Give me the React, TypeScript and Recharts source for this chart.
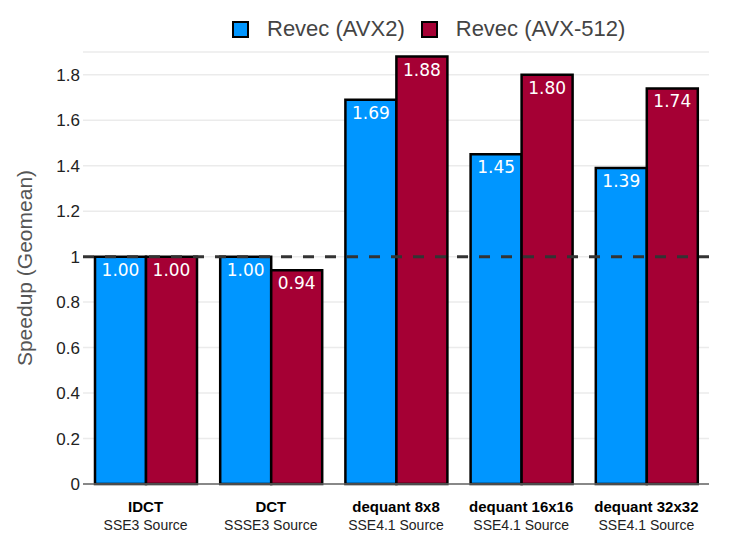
import { BarChart, Bar, XAxis, YAxis, CartesianGrid, ReferenceLine, LabelList } from 'recharts';

const kernels = ['IDCT', 'DCT', 'dequant 8x8', 'dequant 16x16', 'dequant 32x32'];
const sources = ['SSE3 Source', 'SSSE3 Source', 'SSE4.1 Source', 'SSE4.1 Source', 'SSE4.1 Source'];
const avx2 = [1.0, 1.0, 1.69, 1.45, 1.39];
const avx512 = [1.0, 0.94, 1.88, 1.8, 1.74];
const yTicks = [0, 0.2, 0.4, 0.6, 0.8, 1, 1.2, 1.4, 1.6, 1.8];

const BLUE = '#0096ff';
const RED = '#a50034';
const SANS = 'Liberation Sans, Arial, sans-serif';

const data = kernels.map((k, i) => ({ kernel: k, source: sources[i], avx2: avx2[i], avx512: avx512[i] }));

function KernelTick(props: any) {
  const { x, y, payload, index } = props;
  return (
    <g>
      <text x={x} y={y + 20} textAnchor="middle" fontSize={15} fontWeight="bold" fill="#000" fontFamily={SANS}>
        {payload.value}
      </text>
      <text x={x} y={y + 38} textAnchor="middle" fontSize={14} fill="#222" fontFamily={SANS}>
        {sources[index]}
      </text>
    </g>
  );
}

function LegendItem({ color, label }: { color: string; label: string }) {
  return (
    <div style={{ display: 'flex', alignItems: 'center', marginRight: 16 }}>
      <div style={{ width: 13, height: 13, background: color, border: '2px solid #000', marginRight: 18 }} />
      <span style={{ fontSize: 22, color: '#444' }}>{label}</span>
    </div>
  );
}

export default function App() {
  return (
    <div style={{ position: 'absolute', left: 0, top: 0, width: 730, height: 533, fontFamily: SANS, background: '#fff' }}>
      <div style={{ position: 'absolute', left: 232, top: 16, display: 'flex' }}>
        <LegendItem color={BLUE} label="Revec (AVX2)" />
        <LegendItem color={RED} label="Revec (AVX-512)" />
      </div>
      <BarChart
        width={730}
        height={533}
        data={data}
        margin={{ top: 52, right: 21, left: 0, bottom: 0 }}
        barCategoryGap={12}
        barGap={0}
      >
        <CartesianGrid vertical={false} stroke="#ebebeb" strokeWidth={1.5} />
        <XAxis
          dataKey="kernel"
          tick={<KernelTick />}
          tickLine={false}
          axisLine={{ stroke: '#666', strokeWidth: 1.5 }}
          interval={0}
          height={49}
        />
        <YAxis
          width={83}
          domain={[0, 1.9]}
          ticks={yTicks}
          tickFormatter={(v: number) => String(v)}
          tick={{ fontSize: 17, fill: '#222', fontFamily: SANS }}
          tickLine={false}
          tickSize={0}
          axisLine={false}
          tickMargin={3}
          label={{
            value: 'Speedup (Geomean)',
            angle: -90,
            position: 'insideLeft',
            dx: 20,
            style: { fontSize: 21, fill: '#555', textAnchor: 'middle', fontFamily: SANS },
          }}
        />
        <Bar dataKey="avx2" fill={BLUE} stroke="#000" strokeWidth={2.5} isAnimationActive={false}>
          <LabelList
            dataKey="avx2"
            position="insideTop"
            offset={7}
            formatter={(v: number) => v.toFixed(2)}
            style={{ fill: '#fff', fontSize: 17, fontFamily: 'DejaVu Sans, sans-serif' }}
          />
        </Bar>
        <Bar dataKey="avx512" fill={RED} stroke="#000" strokeWidth={2.5} isAnimationActive={false}>
          <LabelList
            dataKey="avx512"
            position="insideTop"
            offset={7}
            formatter={(v: number) => v.toFixed(2)}
            style={{ fill: '#fff', fontSize: 17, fontFamily: 'DejaVu Sans, sans-serif' }}
          />
        </Bar>
        <ReferenceLine y={1} stroke="#333" strokeWidth={3} strokeDasharray="11 11" />
      </BarChart>
    </div>
  );
}
